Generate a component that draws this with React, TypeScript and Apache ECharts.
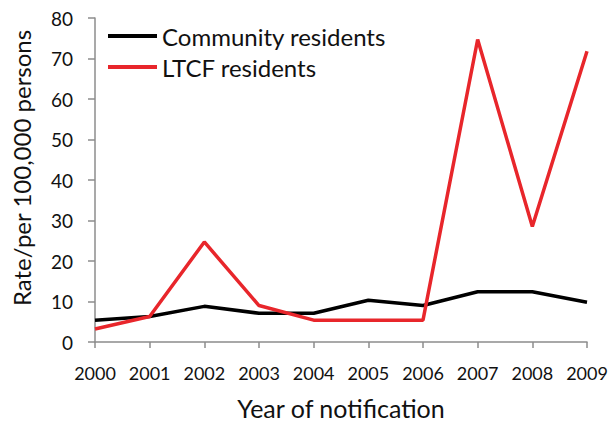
import React, { useEffect, useRef } from "react";
import * as echarts from "echarts";

const years = ["2000", "2001", "2002", "2003", "2004", "2005", "2006", "2007", "2008", "2009"];
const community = [5.4, 6.3, 8.8, 7.1, 7.1, 10.3, 9.0, 12.4, 12.4, 9.8];
const ltcf = [3.2, 6.3, 24.7, 9.0, 5.4, 5.4, 5.4, 74.7, 28.5, 71.8];
const yTicks = { min: 0, max: 80, interval: 10 };

const FONT = "Lato";

export default function App() {
  const ref = useRef<HTMLDivElement>(null);
  useEffect(() => {
    const chart = echarts.init(ref.current!, null, { renderer: "svg" });
    chart.setOption({
      animation: false,
      backgroundColor: "#ffffff",
      textStyle: { fontFamily: FONT },
      grid: { left: 95, right: 26, top: 18, bottom: 81, containLabel: false },
      legend: {
        orient: "vertical",
        left: 103,
        top: 19,
        itemWidth: 49,
        itemHeight: 4,
        itemGap: 7,
        icon: "rect",
        textStyle: { fontFamily: FONT, fontSize: 24, color: "#111", padding: [0, 0, 0, 0] },
        data: ["Community residents", "LTCF residents"],
      },
      xAxis: {
        type: "category",
        data: years,
        boundaryGap: false,
        name: "Year of notification",
        nameLocation: "middle",
        nameGap: 53,
        nameTextStyle: { fontFamily: FONT, fontSize: 25, color: "#111" },
        axisLine: { lineStyle: { color: "#8c8c8c", width: 1.5 } },
        axisTick: { show: true, length: 6, inside: false, lineStyle: { color: "#8c8c8c", width: 1.5 } },
        axisLabel: { fontFamily: FONT, fontSize: 18, color: "#111", margin: 22 },
        splitLine: { show: false },
      },
      yAxis: {
        type: "value",
        min: yTicks.min,
        max: yTicks.max,
        interval: yTicks.interval,
        name: "Rate/per 100,000 persons",
        nameLocation: "middle",
        nameGap: 62,
        nameTextStyle: { fontFamily: FONT, fontSize: 24, color: "#111", padding: [0, 0, 0, 24] },
        axisLine: { show: true, lineStyle: { color: "#8c8c8c", width: 1.5 } },
        axisTick: { show: true, length: 7, inside: false, lineStyle: { color: "#8c8c8c", width: 1.5 } },
        axisLabel: { fontFamily: FONT, fontSize: 19, color: "#111", margin: 22 },
        splitLine: { show: false },
      },
      series: [
        {
          name: "Community residents",
          type: "line",
          data: community,
          symbol: "none",
          color: "#000000",
          lineStyle: { color: "#000000", width: 3.5 },
        },
        {
          name: "LTCF residents",
          type: "line",
          data: ltcf,
          symbol: "none",
          color: "#e8262b",
          lineStyle: { color: "#e8262b", width: 3.5 },
        },
      ],
    });
    return () => chart.dispose();
  }, []);
  return <div ref={ref} style={{ width: 613, height: 425, position: "absolute", left: 0, top: 0 }} />;
}
